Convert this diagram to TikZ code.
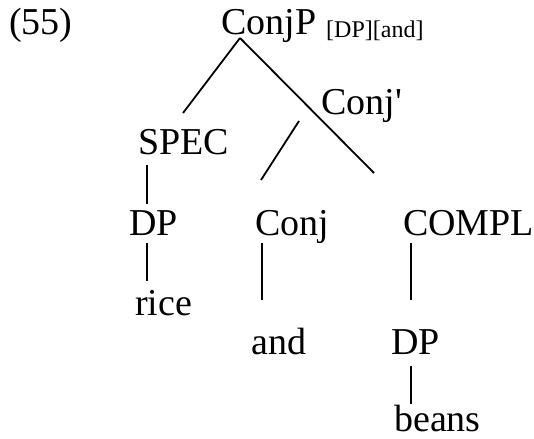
\documentclass[tikz,border=0pt]{standalone}
\usepackage{fontspec}
\setmainfont{Liberation Serif}
\begin{document}
\begin{tikzpicture}[x=1pt,y=-1pt,
  lbl/.style={inner sep=0pt, anchor=base west, font=\fontsize{38}{42}\selectfont},
  sub/.style={inner sep=0pt, anchor=base west, font=\fontsize{24}{28}\selectfont},
  branch/.style={line width=1.8pt}]
\useasboundingbox (0,0) rectangle (534,438);
\node[lbl] (ex) at (9,35) {(55)};
\node[lbl] (conjp) at (221,35) {ConjP};
\node[sub] (feat) at (326,38) {[DP][and]};
\node[lbl] (conjbar) at (321,115) {Conj\textquotesingle};
\node[lbl] (spec) at (138,155) {SPEC};
\node[lbl] (dp1) at (129,235) {DP};
\node[lbl] (rice) at (135,315) {rice};
\node[lbl] (conj) at (255,235) {Conj};
\node[lbl] (and) at (251,354) {and};
\node[lbl] (compl) at (403,235) {COMPL};
\node[lbl] (dp2) at (391,354) {DP};
\node[lbl] (beans) at (394,431) {beans};
% connector end points
\coordinate (top) at (240,38);
\coordinate (specT) at (183,113);
\coordinate (complT) at (374,173);
\coordinate (cbarB) at (299,121);
\coordinate (conjT) at (261,180);
\coordinate (specB) at (147,165);
\coordinate (dp1T) at (147,204);
\coordinate (dp1B) at (147,243);
\coordinate (riceT) at (147,281);
\coordinate (conjB) at (262,243);
\coordinate (andT) at (262,300);
\coordinate (complB) at (411,243);
\coordinate (dp2T) at (411,300);
\coordinate (dp2B) at (411,366);
\coordinate (beansT) at (411,404);
\draw[branch] (top) -- (specT);
\draw[branch] (top) -- (complT);
\draw[branch] (cbarB) -- (conjT);
\draw[branch] (specB) -- (dp1T);
\draw[branch] (dp1B) -- (riceT);
\draw[branch] (conjB) -- (andT);
\draw[branch] (complB) -- (dp2T);
\draw[branch] (dp2B) -- (beansT);
\end{tikzpicture}
\end{document}
